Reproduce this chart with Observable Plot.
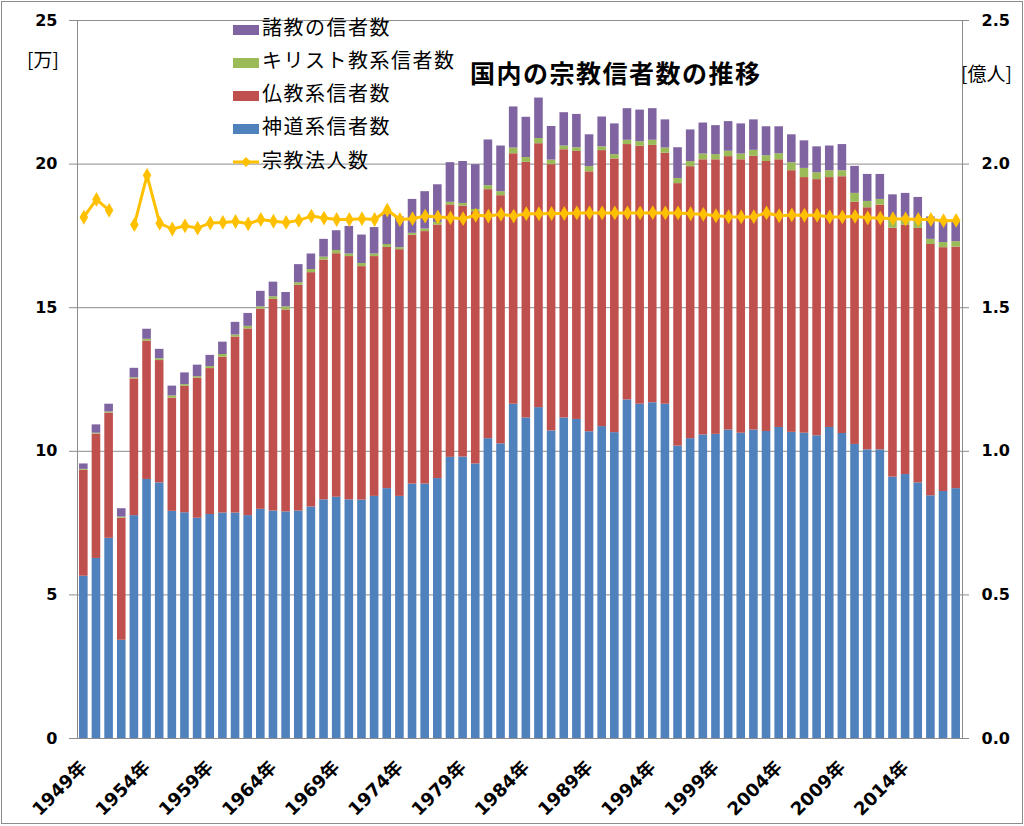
<!DOCTYPE html>
<html>
<head>
<meta charset="utf-8">
<script src="https://cdn.jsdelivr.net/npm/d3@7"></script>
<script src="https://cdn.jsdelivr.net/npm/@observablehq/plot@0.6"></script>
<style>
  html, body { margin: 0; padding: 0; background: #fff; }
  #wrap { position: relative; width: 1024px; height: 826px; overflow: hidden; background: #fff; }
  #border { position: absolute; left: 1px; top: 1px; width: 1020px; height: 821px; border: 1.5px solid #8c8c8c; pointer-events: none; }
  .ov { position: absolute; font-family: "Noto Sans CJK JP", sans-serif; color: #000; white-space: nowrap; }
  #title { left: 470px; top: 54px; font-size: 25px; font-weight: bold; letter-spacing: 1.5px; }
  #uleft { left: 27px; top: 45px; font-size: 19px; }
  #uright { left: 961px; top: 59px; font-size: 19px; }
  .li { position: absolute; left: 233px; height: 24px; display: flex; align-items: center; font-family: "Noto Sans CJK JP", sans-serif; font-size: 20px; letter-spacing: 1.5px; color: #000; white-space: nowrap; }
  .sw { display: inline-block; width: 26px; height: 10px; margin-top: 7px; margin-right: 3px; }
  .lsw { display: inline-block; width: 26px; height: 14px; margin-top: 5px; margin-right: 3px; }
  svg text { font-weight: bold; }
</style>
</head>
<body>
<div id="wrap"></div>
<script>
// ---- data ----
const years = [1949,1950,1951,1952,1953,1954,1955,1956,1957,1958,1959,
  1960,1961,1962,1963,1964,1965,1966,1967,1968,1969,
  1970,1971,1972,1973,1974,1975,1976,1977,1978,1979,
  1980,1981,1982,1983,1984,1985,1986,1987,1988,1989,
  1990,1991,1992,1993,1994,1995,1996,1997,1998,1999,
  2000,2001,2002,2003,2004,2005,2006,2007,2008,2009,
  2010,2011,2012,2013,2014,2015,2016,2017,2018];

// 神道系信者数 (left-axis units)
const shinto = [5.65,6.27,6.97,3.42,7.76,9.02,8.90,7.91,7.86,7.67,7.80,
  7.85,7.85,7.76,7.98,7.92,7.89,7.92,8.06,8.31,8.40,
  8.31,8.30,8.43,8.70,8.43,8.86,8.86,9.05,9.79,9.80,
  9.56,10.44,10.26,11.64,11.16,11.52,10.71,11.16,11.11,10.68,
  10.86,10.65,11.79,11.64,11.69,11.64,10.18,10.44,10.57,10.59,
  10.74,10.63,10.74,10.69,10.83,10.66,10.63,10.54,10.83,10.62,
  10.24,10.05,10.05,9.10,9.19,8.90,8.45,8.60,8.70];

const buddhism = [3.69,4.33,4.36,4.25,4.76,4.82,4.26,3.94,4.40,4.88,5.08,
  5.43,6.13,6.50,6.97,7.37,7.03,7.86,8.16,8.35,8.48,
  8.47,8.13,8.35,8.40,8.59,8.66,8.79,8.83,8.79,8.74,
  8.78,8.67,8.64,8.72,8.90,9.19,9.27,9.34,9.33,9.05,
  9.61,9.53,8.89,8.98,8.96,8.74,9.14,9.47,9.58,9.56,
  9.52,9.52,9.53,9.40,9.32,9.11,8.90,8.92,8.70,8.94,
  8.43,8.43,8.52,8.67,8.69,8.86,8.75,8.49,8.41];

const christianity = [0.03,0.03,0.04,0.04,0.04,0.06,0.06,0.08,0.06,0.05,0.07,
  0.09,0.07,0.09,0.08,0.09,0.11,0.09,0.11,0.10,0.11,
  0.09,0.11,0.09,0.10,0.07,0.07,0.09,0.09,0.09,0.09,
  0.08,0.14,0.14,0.20,0.17,0.18,0.16,0.13,0.13,0.18,
  0.13,0.15,0.15,0.16,0.18,0.18,0.18,0.18,0.20,0.18,
  0.19,0.20,0.21,0.20,0.21,0.28,0.32,0.24,0.24,0.21,
  0.31,0.22,0.20,0.30,0.27,0.23,0.18,0.18,0.19];

const others = [0.19,0.29,0.27,0.29,0.33,0.35,0.33,0.34,0.41,0.40,0.39,
  0.43,0.44,0.45,0.54,0.51,0.50,0.63,0.54,0.62,0.69,
  0.96,0.99,0.92,1.14,1.07,1.18,1.30,1.31,1.38,1.46,
  1.56,1.59,1.59,1.43,1.40,1.41,1.17,1.16,1.16,1.11,
  1.04,1.07,1.10,1.10,1.10,0.98,1.07,1.10,1.08,1.01,
  1.03,1.05,1.06,1.01,0.94,0.97,0.96,0.90,0.86,0.91,
  0.94,0.94,0.87,0.86,0.83,0.85,0.78,0.80,0.74];

// 宗教法人数 (万)
const corporations = [18.15,18.77,18.39,null,17.89,19.61,17.94,17.74,17.85,17.77,17.95,
  17.97,18.00,17.92,18.07,18.01,17.97,18.04,18.19,18.12,18.07,
  18.07,18.10,18.07,18.40,18.07,18.10,18.19,18.16,18.13,18.10,
  18.22,18.19,18.25,18.19,18.27,18.27,18.28,18.28,18.30,18.30,
  18.30,18.30,18.30,18.30,18.31,18.30,18.30,18.27,18.25,18.20,
  18.17,18.16,18.17,18.30,18.20,18.23,18.22,18.22,18.16,18.16,
  18.18,18.13,18.12,18.10,18.09,18.07,18.07,18.03,18.04];

const seriesNames = ["神道系信者数","仏教系信者数","キリスト教系信者数","諸教の信者数"];
const seriesColors = ["#4F81BD","#C0504D","#9BBB59","#8064A2"];
const lineName = "宗教法人数";
const lineColor = "#FFC000";
const yTicks = [0,5,10,15,20,25];
const gridTicks = [5,10,15,20];
const xTickYears = [1949,1954,1959,1964,1969,1974,1979,1984,1989,1994,1999,2004,2009,2014];
const titleText = "国内の宗教信者数の推移";
const leftUnit = "[万]";
const rightUnit = "[億人]";

// ---- build ----
const seriesArrays = [shinto, buddhism, christianity, others];
const rows = years.flatMap((yr, i) => seriesArrays.map((arr, k) => ({year: yr, series: seriesNames[k], value: arr[i]})));
const lineData = years.map((yr, i) => ({year: yr, value: corporations[i]}));

const chart = Plot.plot({
  width: 1024,
  height: 826,
  marginLeft: 77,
  marginRight: 62,
  marginTop: 20,
  marginBottom: 88,
  style: {fontFamily: '"DejaVu Sans","Noto Sans CJK JP",sans-serif', fontSize: "16px", fontWeight: "bold", background: "transparent", color: "#000"},
  x: {type: "band", domain: years, paddingInner: 0.32, paddingOuter: 0.16},
  y: {domain: [0, 25]},
  color: {domain: seriesNames, range: seriesColors},
  marks: [
    Plot.gridY(gridTicks, {stroke: "#8c8c8c", strokeOpacity: 1}),
    Plot.barY(rows, {x: "year", y: "value", fill: "series", order: seriesNames}),
    Plot.line(lineData, {x: "year", y: "value", stroke: lineColor, strokeWidth: 3}),
    Plot.dot(lineData, {x: "year", y: "value", symbol: "diamond", fill: lineColor, r: 4.5}),
    Plot.frame({stroke: "#8c8c8c"}),
    Plot.axisY({ticks: yTicks, tickSize: 8, tickPadding: 12, label: null, stroke: "#8c8c8c", fontSize: 16}),
    Plot.axisY({anchor: "right", ticks: yTicks, tickFormat: d => (d / 10).toFixed(1), tickSize: 6, tickPadding: 13, label: null, stroke: "#8c8c8c", fontSize: 16}),
    Plot.axisX({ticks: xTickYears, tickFormat: d => d + "年", tickRotate: -45, tickSize: 0, tickPadding: 26, label: null, fontSize: 18})
  ]
});

const wrap = document.getElementById("wrap");
wrap.appendChild(chart);

function addDiv(id, cls, text) {
  const d = document.createElement("div");
  if (id) d.id = id;
  d.className = cls;
  d.textContent = text;
  wrap.appendChild(d);
  return d;
}
addDiv("title", "ov", titleText);
addDiv("uleft", "ov", leftUnit);
addDiv("uright", "ov", rightUnit);

// legend (top to bottom: 諸教, キリスト, 仏教, 神道, 宗教法人数)
const legendOrder = [3, 2, 1, 0];
legendOrder.forEach((k, r) => {
  const li = document.createElement("div");
  li.className = "li";
  li.style.top = (14 + r * 33.3) + "px";
  const sw = document.createElement("span");
  sw.className = "sw";
  sw.style.background = seriesColors[k];
  const tx = document.createElement("span");
  tx.textContent = seriesNames[k];
  li.appendChild(sw);
  li.appendChild(tx);
  wrap.appendChild(li);
});
{
  const li = document.createElement("div");
  li.className = "li";
  li.style.top = (14 + 4 * 33.3) + "px";
  const sw = document.createElementNS("http://www.w3.org/2000/svg", "svg");
  sw.setAttribute("class", "lsw");
  sw.setAttribute("width", 26);
  sw.setAttribute("height", 14);
  sw.innerHTML = `<line x1="0" y1="7" x2="26" y2="7" stroke="${lineColor}" stroke-width="3"/><path d="M13,2 L18,7 L13,12 L8,7 Z" fill="${lineColor}"/>`;
  const tx = document.createElement("span");
  tx.textContent = lineName;
  li.appendChild(sw);
  li.appendChild(tx);
  wrap.appendChild(li);
}
const border = document.createElement("div");
border.id = "border";
wrap.appendChild(border);
</script>
</body>
</html>
